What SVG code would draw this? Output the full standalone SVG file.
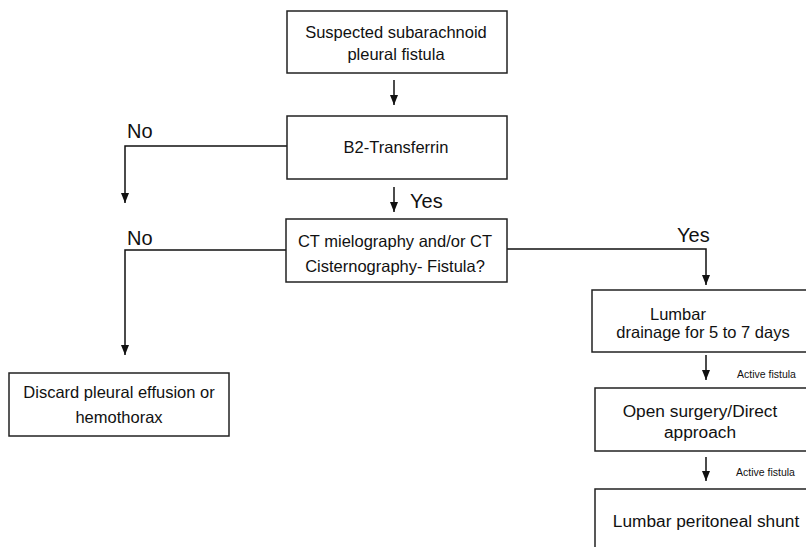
<svg xmlns="http://www.w3.org/2000/svg" width="806" height="547" viewBox="0 0 806 547">
<style>
.box{fill:#fff;stroke:#222;stroke-width:1.5}
.t{font-family:"Liberation Sans",Arial,sans-serif;font-size:16.5px;fill:#111;text-anchor:middle}
.tl{font-family:"Liberation Sans",Arial,sans-serif;font-size:17.3px;fill:#111;text-anchor:middle}
.lab{font-family:"Liberation Sans",Arial,sans-serif;font-size:20px;fill:#111}
.sm{font-family:"Liberation Sans",Arial,sans-serif;font-size:10.5px;fill:#111}
.c{fill:none;stroke:#111;stroke-width:1.5}
</style>
<defs>
<marker id="ah" markerUnits="userSpaceOnUse" markerWidth="10" markerHeight="10" viewBox="0 0 10 10" refX="10" refY="5" orient="auto">
<path d="M0,1 L10,5 L0,9 Z" fill="#111"/>
</marker>
</defs>
<rect width="806" height="547" fill="#fff"/>
<g id="connectors">
<path class="c" d="M394,80 V105" marker-end="url(#ah)"/>
<path class="c" d="M287,146 H125 V203" marker-end="url(#ah)"/>
<path class="c" d="M394,187 V212" marker-end="url(#ah)"/>
<path class="c" d="M286,250 H125 V355" marker-end="url(#ah)"/>
<path class="c" d="M507,249 H706 V285" marker-end="url(#ah)"/>
<path class="c" d="M706,355 V380" marker-end="url(#ah)"/>
<path class="c" d="M706,457 V481" marker-end="url(#ah)"/>
<text class="lab" x="127" y="138">No</text>
<text class="lab" x="127" y="245">No</text>
<text class="lab" x="410" y="208">Yes</text>
<text class="lab" x="677" y="242">Yes</text>
<text class="sm" x="737" y="378">Active fistula</text>
<text class="sm" x="736" y="476">Active fistula</text>
</g>
<g id="n1">
<rect class="box" x="287" y="11" width="220" height="62"/>
<text class="t" x="396" y="38">Suspected subarachnoid</text>
<text class="t" x="396" y="60">pleural fistula</text>
</g>
<g id="n2">
<rect class="box" x="287" y="116" width="220" height="63"/>
<text class="t" x="396" y="153">B2-Transferrin</text>
</g>
<g id="n3">
<rect class="box" x="286" y="219" width="221" height="63"/>
<text class="t" x="395" y="247">CT mielography and/or CT</text>
<text class="t" x="395" y="272">Cisternography- Fistula?</text>
</g>
<g id="n4">
<rect class="box" x="9" y="373" width="220" height="63"/>
<text class="t" x="119" y="398">Discard pleural effusion or</text>
<text class="t" x="119" y="423">hemothorax</text>
</g>
<g id="n5">
<rect class="box" x="592" y="290" width="220" height="62"/>
<text class="t" x="678" y="320">Lumbar</text>
<text class="t" x="703" y="338">drainage for 5 to 7 days</text>
</g>
<g id="n6">
<rect class="box" x="595" y="388" width="220" height="63"/>
<text class="tl" x="700" y="417">Open surgery/Direct</text>
<text class="tl" x="700" y="438">approach</text>
</g>
<g id="n7">
<rect class="box" x="595" y="489" width="220" height="80"/>
<text class="tl" x="706" y="527">Lumbar peritoneal shunt</text>
</g>
</svg>
